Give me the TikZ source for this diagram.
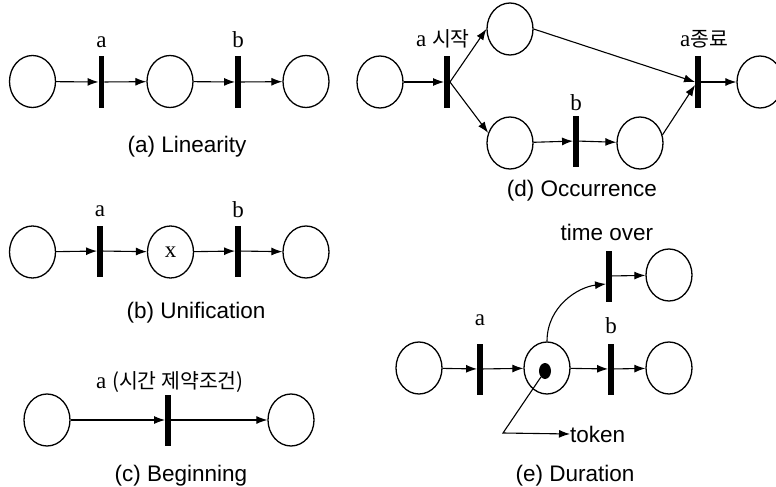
\documentclass[tikz,border=0pt]{standalone}
\usepackage{fontspec}
\setmainfont{Liberation Serif}
\setsansfont{Liberation Sans}
\newfontfamily\kofont{Noto Sans CJK KR}
\usetikzlibrary{shapes.geometric,arrows.meta,calc}
\newcommand\kor[1]{{\kofont\fontsize{20.5}{24}\selectfont #1}}
\begin{document}
\begin{tikzpicture}[x=1pt,y=-1pt,
  placec/.style={draw, ellipse, line width=1.3pt, minimum width=46pt, minimum height=52pt, inner sep=0pt},
  transb/.style={fill=black, rectangle, minimum width=5.5pt, minimum height=51pt, inner sep=0pt},
  arr/.style={-{Latex[length=11pt,width=8pt]}, line width=1.1pt},
  labtxt/.style={font=\fontsize{23}{26}\selectfont\rmfamily, inner sep=0pt, anchor=base},
  captxt/.style={font=\fontsize{22.5}{26}\selectfont\sffamily, inner sep=0pt, anchor=base},
  tokdot/.style={fill=black, ellipse, minimum width=12pt, minimum height=16pt, inner sep=0pt}]
\useasboundingbox (0,0) rectangle (776,487);

% (a) Linearity
\node[placec] (a1) at (32.5,81.5) {};
\node[transb] (at1) at (101.5,82) {};
\node[placec] (a2) at (170,81.5) {};
\node[transb] (at2) at (238,82) {};
\node[placec] (a3) at (306,81.5) {};
\node[labtxt] (la) at (101.5,48) {a};
\node[labtxt] (lb) at (238,48) {b};
\node[captxt] (capa) at (187,152) {(a) Linearity};
\draw[arr] (a1) -- (at1);
\draw[arr] (at1) -- (a2);
\draw[arr] (a2) -- (at2);
\draw[arr] (at2) -- (a3);

% (b) Unification
\node[placec] (b1) at (32.5,252) {};
\node[transb] (bt1) at (100,251) {};
\node[placec, font=\fontsize{23}{26}\selectfont\rmfamily] (b2) at (170.5,252) {x};
\node[transb] (bt2) at (238,251) {};
\node[placec] (b3) at (306,252) {};
\node[labtxt] (lba) at (100,216) {a};
\node[labtxt] (lbb) at (238,217) {b};
\node[captxt] (capb) at (196,318) {(b) Unification};
\draw[arr] (b1) -- (bt1);
\draw[arr] (bt1) -- (b2);
\draw[arr] (b2) -- (bt2);
\draw[arr] (bt2) -- (b3);

% (c) Beginning
\node[placec] (c1) at (47,420) {};
\node[transb] (ct) at (168,420) {};
\node[placec] (c2) at (291,420) {};
\node[labtxt] (lc) at (170,388) {a \kor{(시간 제약조건)}};
\node[captxt] (capc) at (181,481) {(c) Beginning};
\draw[arr] (c1) -- (ct);
\draw[arr] (ct) -- (c2);

% (d) Occurrence
\node[placec] (dl) at (380,82) {};
\node[transb] (dta1) at (447,82) {};
\node[placec] (dtop) at (510,29) {};
\node[placec] (dbl) at (510,143) {};
\node[transb] (dtb) at (576,141) {};
\node[placec] (dbr) at (640,143) {};
\node[transb] (dta2) at (698,82) {};
\node[placec] (dr) at (760,82) {};
\node[labtxt] (lda1) at (443,47) {a \kor{시작}};
\node[labtxt] (lda2) at (704,47) {a\kor{종료}};
\node[labtxt] (ldb) at (576,110) {b};
\node[captxt] (capd) at (582,196) {(d) Occurrence};
\draw[arr] (dl) -- (dta1);
\draw[arr] (dta1.east) -- (dtop.west);
\draw[arr] (dta1.east) -- (dbl.155);
\draw[arr] (dtop.east) -- (dta2.west);
\draw[arr] (dbl) -- (dtb);
\draw[arr] (dtb) -- (dbr);
\draw[arr] (dbr.20) -- ($(dta2.west)+(0,3)$);
\draw[arr] (dta2) -- (dr);

% (e) Duration
\node[placec] (el) at (419,368) {};
\node[transb] (eta) at (480,369) {};
\node[placec] (em) at (547,368) {};
\node[tokdot] (dot) at (545,371) {};
\node[transb] (etb) at (611,369) {};
\node[placec] (ebr) at (669,368) {};
\node[transb] (tto) at (609,276) {};
\node[placec] (etr) at (669,275) {};
\node[labtxt] (lea) at (480,325) {a};
\node[labtxt] (leb) at (611,333) {b};
\node[captxt] (lto) at (607,240) {time over};
\node[font=\fontsize{22.5}{26}\selectfont\sffamily, inner sep=0pt, anchor=west] (tok) at (570,434) {token};
\coordinate (bendc) at (503,433);
\node[captxt] (cape) at (575,481) {(e) Duration};
\draw[arr] (el) -- (eta);
\draw[arr] (eta) -- (em);
\draw[arr] (em) -- (etb);
\draw[arr] (etb) -- (ebr);
\draw[arr] (tto) -- (etr);
\draw[arr] (em.north) .. controls +(0,-35) and +(-28,3) .. ($(tto.west)+(0,8)$);
\draw[arr] (dot) -- (bendc) -- (tok.west);
\end{tikzpicture}
\end{document}
